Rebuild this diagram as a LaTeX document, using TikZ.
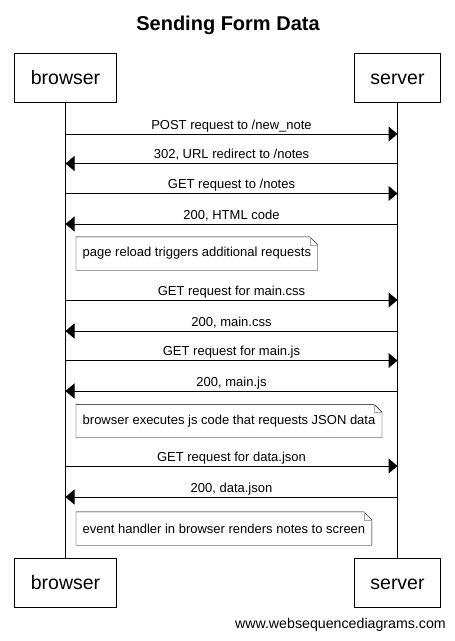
\documentclass[tikz,border=0pt]{standalone}
\usepackage{fontspec}
\setmainfont{Liberation Sans}
\usetikzlibrary{arrows.meta,positioning}

\newcommand{\dognote}[1]{%
    \draw[thin] (#1.north west) -- ([xshift=-8pt]#1.north east) -- ([yshift=-8pt]#1.north east) -- (#1.south east) -- (#1.south west) -- cycle;
    \draw[gray!70] ([xshift=-8pt]#1.north east) |- ([yshift=-8pt]#1.north east);
}

\begin{document}
\begin{tikzpicture}[
    x=1pt, y=1pt,
    actor/.style={rectangle, draw, line width=1pt, font=\fontsize{19.5}{23}\selectfont, text height=14pt, text depth=0pt, inner xsep=16pt, minimum height=49pt},
    msg/.style={-{Triangle[length=9pt,width=15pt]}, line width=1pt},
    msgtext/.style={font=\fontsize{13}{15}\selectfont, anchor=base, yshift=5pt, inner sep=0pt},
    note/.style={font=\fontsize{13}{15}\selectfont, inner xsep=6.5pt, minimum height=33pt, anchor=west}
]
    \useasboundingbox (0,0) rectangle (455,-641);

    % Title
    \node[font=\bfseries\fontsize{20}{24}\selectfont, anchor=base] (title) at (228,-30) {Sending Form Data};

    % Participants
    \node[actor] (browser) at (65.5,-77.5) {browser};
    \node[actor] (server) at (397.5,-77.5) {server};
    \node[actor] (browserend) at (65.5,-582.5) {browser};
    \node[actor] (serverend) at (397.5,-582.5) {server};

    % Lifelines
    \draw[line width=1pt] (browser) -- (browserend);
    \draw[line width=1pt] (server) -- (serverend);

    % Points on the lifelines
    \foreach \i/\y in {1/134,2/163.5,3/193.5,4/224,5/300,6/331,7/360.5,8/391,9/466,10/497} {
        \coordinate (b\i) at (65.5,-\y);
        \coordinate (s\i) at (397.5,-\y);
    }

    % Messages
    \draw[msg] (b1) -- node[msgtext] {POST request to /new\_note} (s1);
    \draw[msg] (s2) -- node[msgtext] {302, URL redirect to /notes} (b2);
    \draw[msg] (b3) -- node[msgtext] {GET request to /notes} (s3);
    \draw[msg] (s4) -- node[msgtext] {200, HTML code} (b4);
    \draw[msg] (b5) -- node[msgtext] {GET request for main.css} (s5);
    \draw[msg] (s6) -- node[msgtext] {200, main.css} (b6);
    \draw[msg] (b7) -- node[msgtext] {GET request for main.js} (s7);
    \draw[msg] (s8) -- node[msgtext] {200, main.js} (b8);
    \draw[msg] (b9) -- node[msgtext] {GET request for data.json} (s9);
    \draw[msg] (s10) -- node[msgtext] {200, data.json} (b10);

    % Notes
    \node[note] (reload) at (76,-253.5) {page reload triggers additional requests};
    \dognote{reload}
    \node[note] (jscode) at (76,-421) {browser executes js code that requests JSON data};
    \dognote{jscode}
    \node[note] (render) at (76,-528.5) {event handler in browser renders notes to screen};
    \dognote{render}

    % Footer
    \node[font=\fontsize{14.2}{17}\selectfont, anchor=base east, inner sep=0pt] (footer) at (446,-628.5) {www.websequencediagrams.com};
\end{tikzpicture}
\end{document}
